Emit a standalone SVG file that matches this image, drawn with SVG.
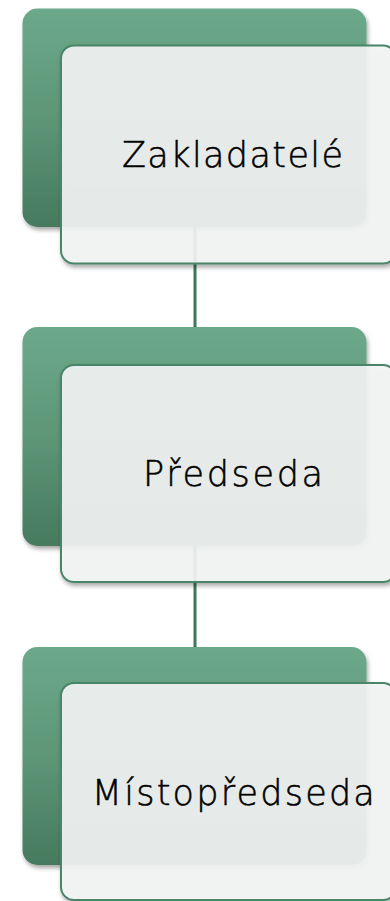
<svg xmlns="http://www.w3.org/2000/svg" width="390" height="901" viewBox="0 0 390 901">
  <defs>
    <linearGradient id="gGreen" x1="0" y1="0" x2="0" y2="1">
      <stop offset="0" stop-color="#6ba98a"/>
      <stop offset="0.5" stop-color="#5d9677"/>
      <stop offset="1" stop-color="#467a5e"/>
    </linearGradient>
    <filter id="shadow" x="-10%" y="-10%" width="130%" height="130%">
      <feDropShadow dx="1.5" dy="3" stdDeviation="2" flood-color="#000" flood-opacity="0.35"/>
    </filter>
  </defs>
  <style>
    .back { fill: url(#gGreen); filter: url(#shadow); }
    .front { fill: #f4f5f5; fill-opacity: 0.9; stroke: #4a8567; stroke-width: 2; filter: url(#shadow); }
    .conn { stroke: #3f775a; stroke-width: 3; fill: none; }
    .label { font-family: "DejaVu Sans", "Liberation Sans", sans-serif; font-weight: 300; font-size: 35px; fill: #000; stroke: #000; stroke-width: 0.5; text-anchor: middle; }
  </style>
  <rect width="390" height="901" fill="#ffffff"/>
  <g id="connectors">
    <line class="conn" x1="195" y1="226" x2="195" y2="328"/>
    <line class="conn" x1="195" y1="545" x2="195" y2="648"/>
  </g>
  <g id="node-zakladatele">
    <rect class="back" x="22.5" y="8.5" width="344" height="218.5" rx="15"/>
    <rect class="front" x="61" y="45.5" width="335" height="218" rx="13"/>
    <text class="label" x="232.5" y="166.5" textLength="221" lengthAdjust="spacing">Zakladatelé</text>
  </g>
  <g id="node-predseda">
    <rect class="back" x="22.5" y="327" width="344" height="219" rx="15"/>
    <rect class="front" x="61" y="365" width="335" height="217" rx="13"/>
    <text class="label" x="233" y="486" textLength="180" lengthAdjust="spacing">Předseda</text>
  </g>
  <g id="node-mistopredseda">
    <rect class="back" x="22.5" y="647" width="344" height="218" rx="15"/>
    <rect class="front" x="61" y="683" width="335" height="217" rx="13"/>
    <text class="label" x="233.3" y="805" textLength="283" lengthAdjust="spacing">Místopředseda</text>
  </g>
</svg>
